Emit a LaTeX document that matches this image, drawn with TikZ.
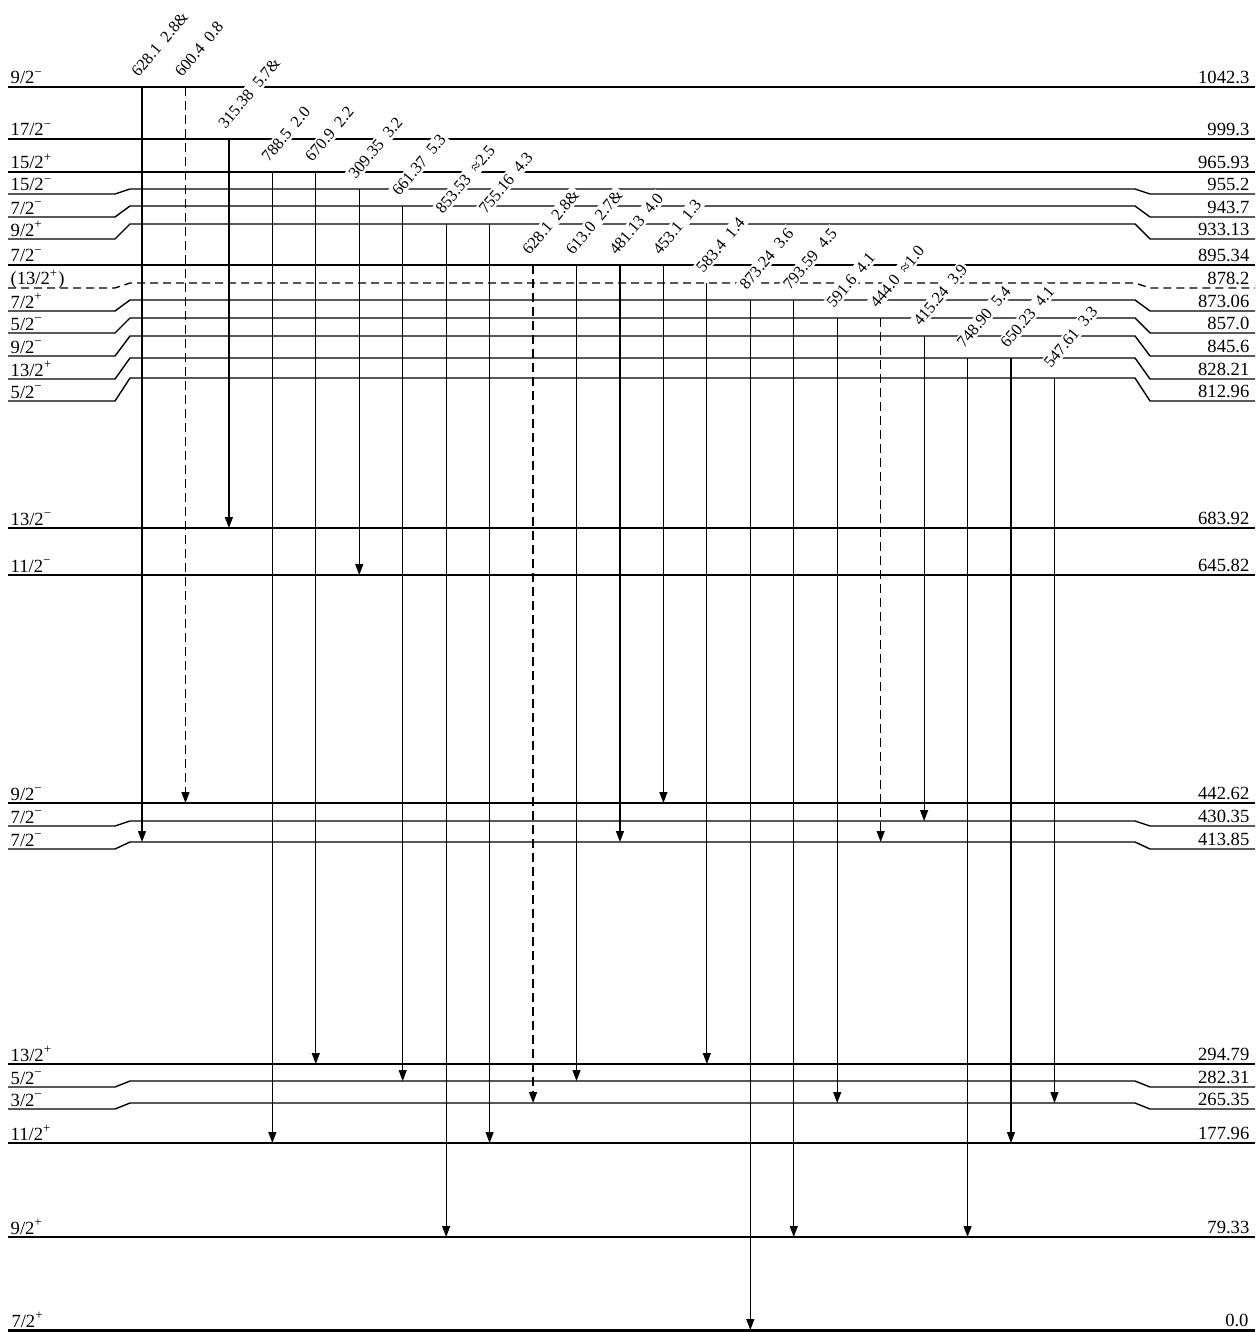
\documentclass[tikz,border=0pt]{standalone}
\usepackage{fontspec}
\setmainfont{Liberation Serif}
\usetikzlibrary{arrows.meta,calc}

\newcommand{\spinm}{\textsuperscript{−}}
\newcommand{\spinp}{\textsuperscript{+}}

\begin{document}
\begin{tikzpicture}[
  x=0.5pt, y=-0.5pt,
  font=\fontsize{9.3}{11}\selectfont,
  lvl/.style={line width=0.7pt},
  lvld/.style={lvl, dash pattern=on 4pt off 2.5pt},
  tr/.style={line width=0.6pt, -{Triangle[length=5.5pt,width=4pt]}},
  trd/.style={tr, dash pattern=on 4.5pt off 2.5pt},
  jp/.style={anchor=base west, inner sep=0pt, xshift=1pt, yshift=1.5pt},
  ep/.style={anchor=base east, inner sep=0pt, xshift=-2.5pt, yshift=1.7pt},
  glab/.style={rotate=50, anchor=west, fill=white, inner sep=1pt,
               font=\fontsize{8.2}{10}\selectfont}
]
\useasboundingbox (0,0) rectangle (1255,1332);

% level heights (main part of each line)
\coordinate (e1042) at (130,87);
\coordinate (e999) at (130,139);
\coordinate (e966) at (130,172);
\coordinate (e955) at (130,189);
\coordinate (e944) at (130,206);
\coordinate (e933) at (130,224);
\coordinate (e895) at (130,265);
\coordinate (e878) at (130,283);
\coordinate (e873) at (130,300);
\coordinate (e857) at (130,318);
\coordinate (e846) at (130,336);
\coordinate (e828) at (130,358);
\coordinate (e813) at (130,378);
\coordinate (e684) at (130,528);
\coordinate (e646) at (130,575);
\coordinate (e443) at (130,803);
\coordinate (e430) at (130,821);
\coordinate (e414) at (130,842);
\coordinate (e295) at (130,1064);
\coordinate (e282) at (130,1081);
\coordinate (e265) at (130,1103);
\coordinate (e178) at (130,1143);
\coordinate (e79) at (130,1237);
\coordinate (e0) at (130,1330);

% levels
\draw[lvl] (8,87) node[jp] (j1042) {9/2\spinm} -- (1255,87) node[ep] (n1042) {1042.3};
\draw[lvl] (8,139) node[jp] (j999) {17/2\spinm} -- (1255,139) node[ep] (n999) {999.3};
\draw[lvl] (8,172) node[jp] (j966) {15/2\spinp} -- (1255,172) node[ep] (n966) {965.93};
\draw[lvl] (8,194) node[jp] (j955) {15/2\spinm} -- (115,194) -- (e955) -- (1135,189) -- (1150,194) -- (1255,194) node[ep] (n955) {955.2};
\draw[lvl] (8,217) node[jp] (j944) {7/2\spinm} -- (115,217) -- (e944) -- (1135,206) -- (1150,217) -- (1255,217) node[ep] (n944) {943.7};
\draw[lvl] (8,239) node[jp] (j933) {9/2\spinp} -- (115,239) -- (e933) -- (1135,224) -- (1150,239) -- (1255,239) node[ep] (n933) {933.13};
\draw[lvl] (8,265) node[jp] (j895) {7/2\spinm} -- (1255,265) node[ep] (n895) {895.34};
\draw[lvld] (8,288) node[jp] (j878) {(13/2\spinp)} -- (115,288) -- (e878) -- (1135,283) -- (1150,288) -- (1255,288) node[ep] (n878) {878.2};
\draw[lvl] (8,311) node[jp] (j873) {7/2\spinp} -- (115,311) -- (e873) -- (1135,300) -- (1150,311) -- (1255,311) node[ep] (n873) {873.06};
\draw[lvl] (8,333) node[jp] (j857) {5/2\spinm} -- (115,333) -- (e857) -- (1135,318) -- (1150,333) -- (1255,333) node[ep] (n857) {857.0};
\draw[lvl] (8,356) node[jp] (j846) {9/2\spinm} -- (115,356) -- (e846) -- (1135,336) -- (1150,356) -- (1255,356) node[ep] (n846) {845.6};
\draw[lvl] (8,379) node[jp] (j828) {13/2\spinp} -- (115,379) -- (e828) -- (1135,358) -- (1150,379) -- (1255,379) node[ep] (n828) {828.21};
\draw[lvl] (8,401) node[jp] (j813) {5/2\spinm} -- (115,401) -- (e813) -- (1135,378) -- (1150,401) -- (1255,401) node[ep] (n813) {812.96};
\draw[lvl] (8,528) node[jp] (j684) {13/2\spinm} -- (1255,528) node[ep] (n684) {683.92};
\draw[lvl] (8,575) node[jp] (j646) {11/2\spinm} -- (1255,575) node[ep] (n646) {645.82};
\draw[lvl] (8,803) node[jp] (j443) {9/2\spinm} -- (1255,803) node[ep] (n443) {442.62};
\draw[lvl] (8,826) node[jp] (j430) {7/2\spinm} -- (115,826) -- (e430) -- (1135,821) -- (1150,826) -- (1255,826) node[ep] (n430) {430.35};
\draw[lvl] (8,849) node[jp] (j414) {7/2\spinm} -- (115,849) -- (e414) -- (1135,842) -- (1150,849) -- (1255,849) node[ep] (n414) {413.85};
\draw[lvl] (8,1064) node[jp] (j295) {13/2\spinp} -- (1255,1064) node[ep] (n295) {294.79};
\draw[lvl] (8,1087) node[jp] (j282) {5/2\spinm} -- (115,1087) -- (e282) -- (1135,1081) -- (1150,1087) -- (1255,1087) node[ep] (n282) {282.31};
\draw[lvl] (8,1109) node[jp] (j265) {3/2\spinm} -- (115,1109) -- (e265) -- (1135,1103) -- (1150,1109) -- (1255,1109) node[ep] (n265) {265.35};
\draw[lvl] (8,1143) node[jp] (j178) {11/2\spinp} -- (1255,1143) node[ep] (n178) {177.96};
\draw[lvl] (8,1237) node[jp] (j79) {9/2\spinp} -- (1255,1237) node[ep] (n79) {79.33};
\draw[lvl, line width=1.5pt] (8,1330) node[jp] (j0) {7/2\spinp} -- (1255,1330) node[ep] (n0) {0.0};

% gamma rays
\foreach \k in {1,...,22}
  \coordinate (t\k) at ({142+(\k-1)*43.45},0);

\foreach \k/\up/\dn/\st/\txt in {
  1/e1042/e414/tr/{628.1\enspace 2.8\&},
  2/e1042/e443/trd/{600.4\enspace 0.8},
  3/e999/e684/tr/{315.38\enspace 5.7\&},
  4/e966/e178/tr/{788.5\enspace 2.0},
  5/e966/e295/tr/{670.9\enspace 2.2},
  6/e955/e646/tr/{309.35\enspace 3.2},
  7/e944/e282/tr/{661.37\enspace 5.3},
  8/e933/e79/tr/{853.53\enspace ≈2.5},
  9/e933/e178/tr/{755.16\enspace 4.3},
  10/e895/e265/trd/{628.1\enspace 2.8\&},
  11/e895/e282/tr/{613.0\enspace 2.7\&},
  12/e895/e414/tr/{481.13\enspace 4.0},
  13/e895/e443/tr/{453.1\enspace 1.3},
  14/e878/e295/tr/{583.4\enspace 1.4},
  15/e873/e0/tr/{873.24\enspace 3.6},
  16/e873/e79/tr/{793.59\enspace 4.5},
  17/e857/e265/tr/{591.6\enspace 4.1},
  18/e857/e414/trd/{444.0\enspace ≈1.0},
  19/e846/e430/tr/{415.24\enspace 3.9},
  20/e828/e79/tr/{748.90\enspace 5.4},
  21/e828/e178/tr/{650.23\enspace 4.1},
  22/e813/e265/tr/{547.61\enspace 3.3}}
{
  \draw[\st] (t\k |- \up) -- (t\k |- \dn);
  \node[glab] (g\k) at ($(t\k |- \up)+(-9,-11)$) {\txt};
}
\end{tikzpicture}
\end{document}
